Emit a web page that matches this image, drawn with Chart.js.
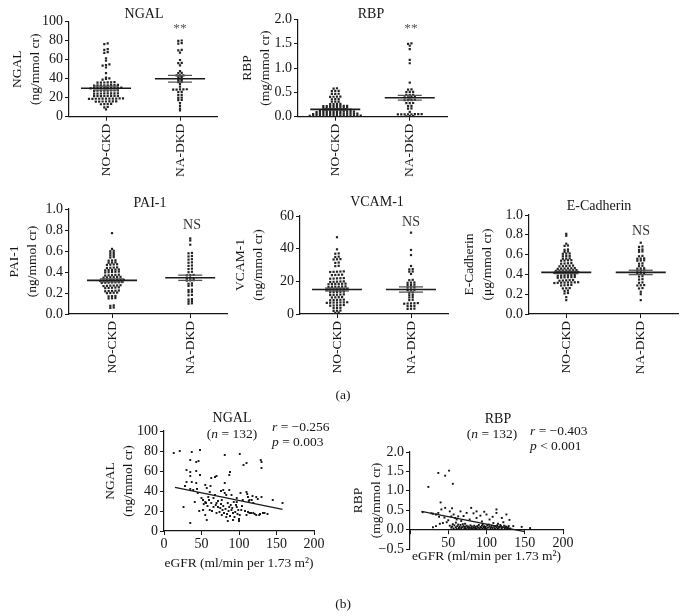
<!DOCTYPE html>
<html><head><meta charset="utf-8">
<script src="https://cdn.jsdelivr.net/npm/chart.js@4.4.1/dist/chart.umd.min.js"></script>
<style>
html,body{margin:0;padding:0;background:#fff;}
#wrap{position:relative;width:686px;height:616px;overflow:hidden;background:#fff;}
#wrap canvas{position:absolute;left:0;top:0;}
</style></head>
<body><div id="wrap">
<canvas id="c1" width="686" height="616"></canvas>
<canvas id="c2" width="686" height="616"></canvas>
<canvas id="c3" width="686" height="616"></canvas>
<canvas id="c4" width="686" height="616"></canvas>
<canvas id="c5" width="686" height="616"></canvas>
<canvas id="c6" width="686" height="616"></canvas>
<canvas id="c7" width="686" height="616"></canvas>
</div>
<script>
// ================= DATA =================
const groups = ['NO-CKD', 'NA-DKD'];

const ngalNoCkd = [77.2, 76.4, 71.1, 70.3, 68.0, 67.2, 61.5, 59.0, 55.0, 54.3, 53.8, 51.8, 45.8, 41.2, 40.3, 39.8, 39.0,
  36.4, 36.2, 36.0, 35.8, 35.9, 36.1,
  33.3, 33.1, 33.0, 32.8, 33.2, 32.9, 33.0, 33.4,
  30.6, 30.4, 30.2, 30.0, 30.5, 30.3, 30.1, 29.9, 30.6, 30.2,
  27.6, 27.4, 27.5, 27.2, 27.7, 27.3, 27.5, 27.6,
  24.6, 24.4, 24.5, 24.3, 24.7, 24.5, 24.2, 24.6,
  21.9, 21.7, 21.8, 21.6, 22.0, 21.8, 21.7, 21.9,
  19.1, 19.0, 18.9, 19.2, 18.8, 19.0, 19.1, 18.9, 19.0, 19.2, 18.8,
  16.1, 16.0, 15.9, 16.2, 15.8, 16.0, 16.1,
  13.4, 13.2, 13.3, 13.1,
  10.2, 9.8, 7.8];
const ngalNaDkd = [80.2, 79.8, 77.4, 77.0, 70.3, 69.9, 67.5, 59.7, 56.6, 56.3, 54.0, 48.0, 46.1, 45.8, 43.6, 43.4, 43.5,
  41.6, 41.3, 38.8, 38.6, 36.6, 36.3, 34.4, 31.6, 28.8, 28.6, 28.7, 28.9, 28.5, 26.1, 25.9, 23.0, 22.8,
  20.1, 19.9, 17.6, 17.4, 14.2, 11.4, 8.6, 6.5];
const ngalMean = [30, 40];
const ngalSem = [2.1, 3.5];

const rbpNoCkd = [0.585, 0.578, 0.532, 0.528, 0.530, 0.472, 0.468, 0.470, 0.412, 0.408, 0.410, 0.414,
  0.362, 0.358, 0.360, 0.312, 0.308, 0.310, 0.262, 0.258, 0.260, 0.264,
  0.222, 0.218, 0.220, 0.224, 0.216, 0.221, 0.219, 0.223,
  0.182, 0.178, 0.180, 0.184, 0.176, 0.181, 0.179, 0.183,
  0.142, 0.138, 0.140, 0.144, 0.136, 0.141, 0.139, 0.143, 0.137, 0.140,
  0.102, 0.098, 0.100, 0.104, 0.096, 0.101, 0.099, 0.103, 0.097, 0.100, 0.102, 0.098,
  0.062, 0.058, 0.060, 0.064, 0.056, 0.061, 0.059, 0.063, 0.057, 0.060, 0.062, 0.058, 0.061, 0.059,
  0.022, 0.018, 0.020, 0.024, 0.016, 0.021, 0.019, 0.023, 0.017, 0.020, 0.022, 0.018, 0.021, 0.019, 0.015, 0.025];
const rbpNaDkd = [1.51, 1.50, 1.46, 1.39, 1.17, 1.10, 0.70, 0.562, 0.558, 0.512, 0.508, 0.510, 0.452, 0.448, 0.450,
  0.402, 0.398, 0.400, 0.404, 0.342, 0.338, 0.340, 0.344, 0.282, 0.278, 0.280, 0.222, 0.218, 0.172, 0.168, 0.100,
  0.052, 0.048, 0.050, 0.054, 0.046, 0.051, 0.049, 0.053, 0.012, 0.008, 0.010];
const rbpMean = [0.15, 0.39];
const rbpSem = [0.015, 0.05];

const pai1NoCkd = [0.77, 0.62, 0.602, 0.598, 0.582, 0.578, 0.562, 0.558, 0.542, 0.538, 0.512, 0.508, 0.510,
  0.492, 0.488, 0.490, 0.472, 0.468, 0.470, 0.474, 0.442, 0.438, 0.440, 0.444, 0.422, 0.418, 0.420, 0.424, 0.416,
  0.402, 0.398, 0.400, 0.404, 0.396, 0.372, 0.368, 0.370, 0.374, 0.366, 0.352, 0.348, 0.350, 0.354, 0.346, 0.351,
  0.322, 0.318, 0.320, 0.324, 0.316, 0.321, 0.319, 0.323, 0.302, 0.298, 0.300, 0.304, 0.296, 0.301, 0.299,
  0.272, 0.268, 0.270, 0.274, 0.266, 0.271, 0.252, 0.248, 0.250, 0.254, 0.246, 0.222, 0.218, 0.220, 0.224, 0.216,
  0.202, 0.198, 0.200, 0.204, 0.172, 0.168, 0.170, 0.152, 0.148, 0.150, 0.082, 0.078, 0.062, 0.058];
const pai1NaDkd = [0.72, 0.70, 0.66, 0.582, 0.578, 0.552, 0.548, 0.522, 0.518, 0.492, 0.488, 0.462, 0.458, 0.432, 0.428,
  0.402, 0.398, 0.372, 0.368, 0.370, 0.342, 0.338, 0.340, 0.322, 0.318, 0.320, 0.292, 0.288, 0.272, 0.268,
  0.232, 0.228, 0.212, 0.208, 0.182, 0.178, 0.142, 0.138, 0.122, 0.118, 0.102, 0.098];
const pai1Mean = [0.32, 0.345];
const pai1Sem = [0.015, 0.025];

const vcamNoCkd = [47.0, 39.6, 37.1, 36.9, 35.1, 34.9, 33.5, 33.6, 33.4, 31.5, 31.3, 29.5, 29.3,
  26.0, 25.8, 25.9, 26.1, 25.7, 24.0, 23.8, 23.9, 24.1, 21.9, 21.7, 21.8, 22.0, 21.6,
  19.9, 19.7, 19.8, 20.0, 19.6, 18.5, 18.3, 18.4, 18.6, 18.2, 18.4, 16.8, 16.6, 16.7, 16.9, 16.5, 16.7,
  15.2, 15.0, 15.1, 15.3, 14.9, 15.1, 15.2, 13.6, 13.4, 13.5, 13.7, 13.3, 11.9, 11.7, 11.8, 12.0, 11.6,
  10.3, 10.1, 10.2, 10.4, 8.7, 8.5, 8.6, 8.8, 8.4, 7.1, 6.9, 7.0, 7.2, 6.8, 7.0, 7.1,
  5.4, 5.2, 5.3, 5.5, 5.1, 3.8, 3.6, 3.7, 2.1, 1.9, 2.0, 0.9, 0.7];
const vcamNaDkd = [49.8, 39.2, 36.1, 29.4, 27.5, 27.3, 26.0, 25.9, 24.5, 20.9, 20.7, 19.3, 19.1, 19.2,
  17.9, 17.7, 17.8, 16.4, 16.2, 16.3, 14.8, 14.6, 14.7, 13.2, 13.0, 11.7, 11.5, 10.3, 10.1, 8.7, 8.5,
  6.6, 6.4, 6.5, 6.7, 6.3, 5.0, 4.8, 4.9, 3.3, 3.1, 3.2];
const vcamMean = [15, 15];
const vcamSem = [0.9, 1.6];

const ecadNoCkd = [0.81, 0.79, 0.71, 0.692, 0.688, 0.652, 0.648, 0.632, 0.628, 0.612, 0.608, 0.610,
  0.587, 0.583, 0.585, 0.562, 0.558, 0.560, 0.542, 0.538, 0.540, 0.544, 0.512, 0.508, 0.510, 0.514,
  0.487, 0.483, 0.485, 0.489, 0.481, 0.462, 0.458, 0.460, 0.464, 0.456, 0.461,
  0.442, 0.438, 0.440, 0.444, 0.436, 0.441, 0.439, 0.422, 0.418, 0.420, 0.424, 0.416, 0.421, 0.419, 0.423,
  0.392, 0.388, 0.390, 0.394, 0.386, 0.391, 0.372, 0.368, 0.370, 0.374, 0.366, 0.371,
  0.342, 0.338, 0.340, 0.344, 0.336, 0.319, 0.315, 0.317, 0.321, 0.313, 0.318, 0.316, 0.320,
  0.292, 0.288, 0.290, 0.294, 0.262, 0.258, 0.260, 0.237, 0.233, 0.212, 0.208, 0.17, 0.14];
const ecadNaDkd = [0.72, 0.682, 0.678, 0.652, 0.648, 0.632, 0.628, 0.587, 0.583, 0.562, 0.558, 0.560,
  0.542, 0.538, 0.540, 0.512, 0.508, 0.487, 0.483, 0.462, 0.458, 0.460, 0.442, 0.438, 0.440,
  0.412, 0.408, 0.410, 0.382, 0.378, 0.352, 0.348, 0.319, 0.315, 0.292, 0.288, 0.290, 0.262, 0.258, 0.225, 0.20, 0.14];
const ecadMean = [0.42, 0.42];
const ecadSem = [0.012, 0.022];

// Correlation panels (eGFR vs marker), n = 132
const ngalEgfr = [13, 21, 37, 48, 35, 46, 43, 30, 35, 43, 35, 48, 30, 37, 43, 28, 35, 39, 44, 26, 35, 55, 57, 52, 55, 56, 52, 55, 57,
  61, 59, 63, 66, 61, 68, 63, 68, 70, 81, 101, 106, 110, 129, 130, 130, 81, 87, 88, 70, 72, 75, 78, 80, 77, 83,
  85, 87, 90, 92, 94, 92, 97, 99, 101, 103, 105, 102, 110, 112, 114, 117, 119, 112, 114, 119, 123, 127, 134,
  130, 145, 158, 79, 81, 83, 87, 97, 97, 70, 77, 110, 123,
  50, 53, 58, 60, 64, 66, 69, 72, 74, 76, 79, 82, 84, 86, 88, 89, 91, 93, 95, 96, 98, 100, 100, 104, 108, 111,
  113, 116, 118, 121, 125, 128, 132, 138, 45, 41, 62, 47, 85, 76, 90];
const ngalVals = [78, 80, 79, 81, 71, 70, 69, 61, 59, 60, 55, 56, 49, 49, 48, 45, 42, 41, 42, 24, 8, 46, 43, 31, 29, 28, 21, 16, 11,
  39, 34, 28, 24, 21, 36, 53, 54, 55, 76, 77, 66, 68, 71, 69, 63, 48, 56, 59, 28, 24, 23, 21, 18, 16, 14,
  28, 24, 21, 18, 14, 11, 24, 21, 16, 21, 31, 38, 39, 34, 31, 31, 28, 19, 18, 18, 16, 16, 18,
  34, 31, 28, 41, 38, 36, 41, 29, 33, 18, 31, 16, 34,
  33, 27, 25, 31, 20, 33, 26, 30, 19, 27, 25, 22, 17, 20, 15, 26, 23, 29, 19, 26, 17, 12, 10, 25, 20, 37,
  30, 18, 35, 17, 32, 17, 18, 17, 38, 29, 45, 20, 10, 40, 36];
const ngalFitX = [14.6, 158];
const ngalFitY = [43.7, 21.7];

const rbpEgfr = [16.5, 24, 37, 46, 51, 56, 40, 46, 41, 37, 38, 34, 30, 43, 48, 39, 34, 52, 54, 57, 59, 63, 61, 66, 74, 80, 87,
  100, 113, 113, 126, 120, 146, 157, 135, 78, 87, 94, 104, 109, 115, 122,
  50, 45, 28, 30, 55, 70, 83, 92, 97, 108, 130, 60, 67, 72, 118, 125,
  52, 54, 55, 57, 58, 60, 61, 62, 64, 65, 66, 67, 68, 70, 71, 72, 73, 74, 75, 76, 77, 78, 79, 80, 81, 82, 83,
  84, 85, 86, 87, 88, 89, 90, 91, 92, 93, 94, 95, 96, 97, 98, 99, 100, 101, 102, 104, 105, 106, 107, 108, 110,
  111, 112, 113, 114, 115, 116, 117, 119, 120, 121, 123, 124, 126, 127, 128, 129, 131, 56, 63, 69, 95, 103];
const rbpVals = [0.45, 1.10, 1.46, 1.39, 1.52, 1.18, 0.70, 0.56, 0.52, 0.43, 0.33, 0.39, 0.41, 0.17, 0.19, 0.15, 0.09,
  0.47, 0.34, 0.39, 0.30, 0.34, 0.26, 0.47, 0.43, 0.56, 0.47, 0.39, 0.52, 0.43, 0.39, 0.30, 0.07, 0.04, 0.09,
  0.26, 0.30, 0.21, 0.26, 0.17, 0.15, 0.19,
  0.24, 0.31, 0.42, 0.06, 0.55, 0.35, 0.42, 0.36, 0.46, 0.33, 0.25, 0.18, 0.22, 0.15, 0.12, 0.08,
  0.10, 0.05, 0.08, 0.03, 0.11, 0.06, 0.02, 0.09, 0.04, 0.07, 0.12, 0.03, 0.06, 0.09, 0.04, 0.07, 0.02, 0.10,
  0.05, 0.08, 0.03, 0.06, 0.11, 0.04, 0.08, 0.02, 0.06, 0.10, 0.04, 0.07, 0.02, 0.09, 0.05, 0.12, 0.03, 0.07,
  0.05, 0.10, 0.02, 0.06, 0.09, 0.04, 0.07, 0.02, 0.11, 0.05, 0.08, 0.03, 0.06, 0.10, 0.04, 0.07, 0.02, 0.09,
  0.05, 0.11, 0.03, 0.07, 0.05, 0.09, 0.03, 0.06, 0.10, 0.04, 0.07, 0.02, 0.05, 0.09, 0.03, 0.14, 0.13, 0.14, 0.14, 0.13];
const rbpFitX = [15, 150];
const rbpFitY = [0.47, -0.05];

// ================= RENDERING =================
const FONT = '"Liberation Serif", "Times New Roman", serif';
const INK = '#151515';
const TICK = 14;     // numeric tick labels
const CAT = 13.5;    // category labels
const AXT = 13.5;    // axis titles
Chart.defaults.font.family = FONT;
Chart.defaults.font.size = 13;
Chart.defaults.color = INK;
Chart.defaults.animation = false;
Chart.defaults.events = [];

const fmt = (v, d) => (Math.abs(v) < 1e-9 ? 0 : v).toFixed(d).replace('-', '\u2212');

function swarm(vals, center, pxX, pxY, pitch) {
  const sorted = vals.slice().sort((a, b) => a - b);
  const rows = [];
  let cur = null;
  for (const v of sorted) {
    if (cur && (v - cur.start) * pxY <= 1.5) cur.items.push(v);
    else { cur = { start: v, items: [v] }; rows.push(cur); }
  }
  const pts = [];
  rows.forEach(r => {
    const n = r.items.length;
    r.items.forEach((v, k) => pts.push({ x: center + (k - (n - 1) / 2) * pitch / pxX, y: v }));
  });
  return pts;
}

function drawRich(ctx, it) {
  const size = it.size || 13.5;
  ctx.save();
  ctx.fillStyle = it.color || INK;
  ctx.textBaseline = 'middle';
  ctx.textAlign = 'left';
  const parts = it.parts;
  let w = 0;
  parts.forEach(p => { ctx.font = (p.i ? 'italic ' : '') + size + 'px ' + FONT; w += ctx.measureText(p.t).width; });
  let x = it.align === 'left' ? it.x : (it.align === 'right' ? it.x - w : it.x - w / 2);
  parts.forEach(p => {
    ctx.font = (p.i ? 'italic ' : '') + size + 'px ' + FONT;
    ctx.fillText(p.t, x, it.y);
    x += ctx.measureText(p.t).width;
  });
  ctx.restore();
}
const textPlugin = {
  id: 'texts',
  afterDraw(chart, args, opts) { (opts.items || []).forEach(it => drawRich(chart.ctx, it)); }
};
const T = (t, x, y, extra) => Object.assign({ parts: [{ t: t }], x: x, y: y, align: 'center' }, extra || {});

function yAxisCfg(o) {
  return {
    type: 'linear', min: o.ymin, max: o.ymax,
    ticks: { stepSize: o.ystep, autoSkip: false, padding: 2, color: INK, font: { size: TICK, lineHeight: 1 },
      callback: v => fmt(v, o.dec) },
    grid: { drawOnChartArea: false, drawTicks: true, tickLength: 4, color: INK, lineWidth: 1 },
    border: { display: true, color: INK, width: 1.2 },
    title: { display: true, text: o.ytitle, color: INK, font: { size: AXT, lineHeight: '18px' }, padding: { top: 0, bottom: 0 } },
    afterFit: s => { s.width = o.area.l - o.tl; }
  };
}
function lineDs(pts, color, w) {
  return { data: pts, showLine: true, borderColor: color, borderWidth: w, pointRadius: 0, fill: false, order: 0 };
}

function dotPanel(o) {
  const xr = o.xr || [0.5, 2.5];
  const W = o.area.r - o.area.l, H = o.area.b - o.area.t;
  const pxX = W / (xr[1] - xr[0]), pxY = H / (o.ymax - o.ymin);
  const ds = [];
  o.means.forEach((m, gi) => {
    const c = gi + 1, s = o.sems[gi];
    const hm = 25 / pxX, hs = 12 / pxX;
    ds.push(lineDs([{ x: c - hm, y: m }, { x: c + hm, y: m }], '#1a1a1a', 1.6));
    ds.push(lineDs([{ x: c - hs, y: m + s }, { x: c + hs, y: m + s }], '#555', 1.3));
    ds.push(lineDs([{ x: c - hs, y: m - s }, { x: c + hs, y: m - s }], '#555', 1.3));
    ds.push(lineDs([{ x: c, y: m - s }, { x: c, y: m + s }], '#555', 1.3));
  });
  o.values.forEach((vals, gi) => {
    ds.push({ data: swarm(vals, gi + 1, pxX, pxY, 3.4), pointStyle: 'rect', pointRadius: 1.55,
      backgroundColor: '#222', borderWidth: 0, showLine: false, order: 1 });
  });
  const HX = 62;
  new Chart(document.getElementById(o.id), {
    type: 'scatter',
    data: { datasets: ds },
    plugins: [textPlugin],
    options: {
      responsive: false, animation: false,
      layout: { padding: { left: o.tl, top: o.area.t, right: 686 - o.area.r, bottom: 616 - o.area.b - HX } },
      plugins: { legend: { display: false }, tooltip: { enabled: false }, title: { display: false }, texts: { items: o.texts } },
      scales: {
        x: {
          type: 'linear', min: xr[0], max: xr[1],
          afterBuildTicks: s => { s.ticks = [{ value: 1 }, { value: 2 }]; },
          ticks: { autoSkip: false, minRotation: 90, maxRotation: 90, padding: 3, color: INK, font: { size: CAT },
            callback: v => groups[Math.round(v) - 1] || '' },
          grid: { drawOnChartArea: false, drawTicks: true, tickLength: 4, color: INK, lineWidth: 1 },
          border: { display: true, color: INK, width: 1.2 },
          afterFit: s => { s.height = HX; }
        },
        y: yAxisCfg(o)
      }
    }
  });
}

function corrPanel(o) {
  const pts = o.xs.map((x, i) => ({ x: x, y: o.ys[i] }));
  const fit = o.fitX.map((x, i) => ({ x: x, y: o.fitY[i] }));
  const ds = [
    lineDs(fit, '#1a1a1a', 1.2),
    { data: pts, pointStyle: 'rect', pointRadius: 1.35, backgroundColor: '#111', borderWidth: 0, showLine: false, order: 1 }
  ];
  new Chart(document.getElementById(o.id), {
    type: 'scatter',
    data: { datasets: ds },
    plugins: [textPlugin],
    options: {
      responsive: false, animation: false,
      layout: { padding: { left: o.tl, top: o.area.t, right: 686 - o.area.r, bottom: o.padBottom } },
      plugins: { legend: { display: false }, tooltip: { enabled: false }, title: { display: false }, texts: { items: o.texts } },
      scales: {
        x: {
          type: 'linear', min: 0, max: 200, position: o.xpos || 'bottom',
          ticks: { stepSize: 50, autoSkip: false, padding: 1, color: INK, font: { size: TICK },
            callback: v => (o.hideZero && v === 0) ? '' : fmt(v, 0) },
          grid: { drawOnChartArea: false, drawTicks: true, tickLength: 4, color: INK, lineWidth: 1 },
          border: { display: true, color: INK, width: 1.2 },
          title: { display: true, text: 'eGFR (ml/min per 1.73 m\u00B2)', color: INK, font: { size: AXT, lineHeight: '18px' }, padding: { top: 0, bottom: 0 } },
          afterFit: s => { s.height = o.hx; }
        },
        y: yAxisCfg(o)
      }
    }
  });
}

const NS_COLOR = '#333';
dotPanel({
  id: 'c1', area: { l: 69, t: 21.7, r: 217, b: 116.7 }, tl: 8,
  ymin: 0, ymax: 100, ystep: 20, dec: 0, ytitle: ['NGAL', '(ng/mmol cr)'],
  values: [ngalNoCkd, ngalNaDkd], means: ngalMean, sems: ngalSem,
  texts: [T('NGAL', 144, 14, { size: 14 }), T('**', 180, 28, { color: '#555' }),
    T('(a)', 343, 395), T('(b)', 343, 604)]
});
dotPanel({
  id: 'c2', area: { l: 298, t: 19.5, r: 447, b: 116.7 }, tl: 238,
  ymin: 0, ymax: 2, ystep: 0.5, dec: 1, ytitle: ['RBP', '(mg/mmol cr)'],
  values: [rbpNoCkd, rbpNaDkd], means: rbpMean, sems: rbpSem,
  texts: [T('RBP', 371, 14, { size: 14 }), T('**', 411, 28, { color: '#555' })]
});
dotPanel({
  id: 'c3', area: { l: 69, t: 209, r: 227, b: 314 }, tl: 5, xr: [0.45, 2.47],
  ymin: 0, ymax: 1, ystep: 0.2, dec: 1, ytitle: ['PAI-1', '(ng/mmol cr)'],
  values: [pai1NoCkd, pai1NaDkd], means: pai1Mean, sems: pai1Sem,
  texts: [T('PAI-1', 150, 203, { size: 14 }), T('NS', 192, 225, { color: NS_COLOR, size: 14 })]
});
dotPanel({
  id: 'c4', area: { l: 300, t: 216, r: 448, b: 314 }, tl: 231,
  ymin: 0, ymax: 60, ystep: 20, dec: 0, ytitle: ['VCAM-1', '(ng/mmol cr)'],
  values: [vcamNoCkd, vcamNaDkd], means: vcamMean, sems: vcamSem,
  texts: [T('VCAM-1', 377, 202, { size: 14 }), T('NS', 411, 222, { color: NS_COLOR, size: 14 })]
});
dotPanel({
  id: 'c5', area: { l: 529, t: 215, r: 678, b: 314 }, tl: 460,
  ymin: 0, ymax: 1, ystep: 0.2, dec: 1, ytitle: ['E-Cadherin', '(\u03BCg/mmol cr)'],
  values: [ecadNoCkd, ecadNaDkd], means: ecadMean, sems: ecadSem,
  texts: [T('E-Cadherin', 599, 206, { size: 14 }), T('NS', 641, 231, { color: NS_COLOR, size: 14 })]
});
corrPanel({
  id: 'c6', area: { l: 164, t: 431, r: 314, b: 531 }, tl: 101, hx: 41, padBottom: 616 - 531 - 41,
  ymin: 0, ymax: 100, ystep: 20, dec: 0, ytitle: ['NGAL', '(ng/mmol cr)'],
  xs: ngalEgfr, ys: ngalVals, fitX: ngalFitX, fitY: ngalFitY,
  texts: [T('NGAL', 232, 418, { size: 14 }),
    { parts: [{ t: '(' }, { t: 'n', i: true }, { t: ' = 132)' }], x: 232, y: 434, align: 'center' },
    { parts: [{ t: 'r', i: true }, { t: ' = \u22120.256' }], x: 272, y: 427, align: 'left' },
    { parts: [{ t: 'p', i: true }, { t: ' = 0.003' }], x: 272, y: 442, align: 'left' }]
});
corrPanel({
  id: 'c7', area: { l: 410, t: 452, r: 563, b: 549 }, tl: 349, hx: 36, padBottom: 616 - 549,
  xpos: { y: 0 }, hideZero: true,
  ymin: -0.5, ymax: 2, ystep: 0.5, dec: 1, ytitle: ['RBP', '(mg/mmol cr)'],
  xs: rbpEgfr, ys: rbpVals, fitX: rbpFitX, fitY: rbpFitY,
  texts: [T('RBP', 498, 419, { size: 14 }),
    { parts: [{ t: '(' }, { t: 'n', i: true }, { t: ' = 132)' }], x: 492, y: 434, align: 'center' },
    { parts: [{ t: 'r', i: true }, { t: ' = \u22120.403' }], x: 530, y: 431, align: 'left' },
    { parts: [{ t: 'p', i: true }, { t: ' < 0.001' }], x: 530, y: 446, align: 'left' }]
});
</script>
</body></html>
